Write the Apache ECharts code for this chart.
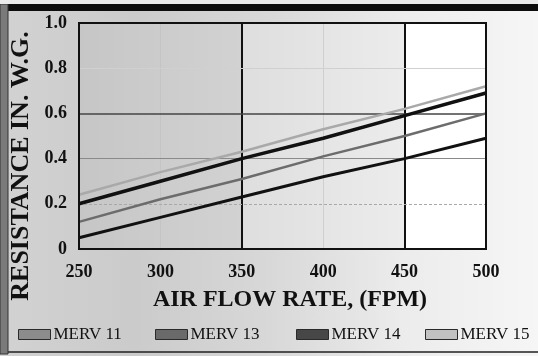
<!DOCTYPE html>
<html>
<head>
<meta charset="utf-8">
<script src="https://cdn.jsdelivr.net/npm/echarts@6/dist/echarts.min.js"></script>
<style>
  html, body { margin: 0; padding: 0; background: #fff; }
  #chart { width: 538px; height: 356px; }
</style>
</head>
<body>
<div id="chart"></div>
<script>
// Filter resistance vs. face velocity
const airFlow = [250, 300, 350, 400, 450, 500];
const merv11 = [0.05, 0.14, 0.23, 0.32, 0.40, 0.49];
const merv13 = [0.12, 0.22, 0.31, 0.41, 0.50, 0.60];
const merv14 = [0.20, 0.30, 0.40, 0.49, 0.59, 0.69];
const merv15 = [0.24, 0.34, 0.43, 0.53, 0.62, 0.72];
const seriesNames = ['MERV 11', 'MERV 13', 'MERV 14', 'MERV 15'];
const xTicks = [250, 300, 350, 400, 450, 500];
const yTicks = [0, 0.2, 0.4, 0.6, 0.8, 1.0];

const SERIF = '"Liberation Serif", "DejaVu Serif", serif';

const lineColors = ['#111111', '#6c6c6c', '#111111', '#a9a9a9'];
const lineWidths = [3, 2.5, 3.5, 2.5];
const swatchColors = ['#8c8c8c', '#6a6a6a', '#474747', '#c2c2c2'];
const legendLeft = [18, 155, 296, 425];

const chart = echarts.init(document.getElementById('chart'), null, { renderer: 'canvas' });

const allValues = [merv11, merv13, merv14, merv15];

const series = allValues.map((vals, i) => ({
  name: seriesNames[i],
  type: 'line',
  data: airFlow.map((x, j) => [x, vals[j]]),
  symbol: 'none',
  z: 5,
  lineStyle: { color: lineColors[i], width: lineWidths[i] },
  itemStyle: { color: lineColors[i] }
}));

// shaded bands and reference lines inside the plot
series.push({
  type: 'line',
  data: [],
  silent: true,
  z: 1,
  markArea: {
    silent: true,
    data: [
      [{ xAxis: 250, itemStyle: { color: {
          type: 'linear', x: 0, y: 0, x2: 1, y2: 0,
          colorStops: [{ offset: 0, color: '#c6c6c6' }, { offset: 1, color: '#d2d2d2' }]
        } } }, { xAxis: 350 }],
      [{ xAxis: 350, itemStyle: { color: {
          type: 'linear', x: 0, y: 0, x2: 1, y2: 0,
          colorStops: [{ offset: 0, color: '#dedede' }, { offset: 1, color: '#ececec' }]
        } } }, { xAxis: 450 }],
      [{ xAxis: 450, itemStyle: { color: '#ffffff' } }, { xAxis: 500 }]
    ]
  },
  markLine: {
    silent: true,
    symbol: 'none',
    label: { show: false },
    data: [
      { xAxis: xTicks[1], lineStyle: { color: '#c4c4c4', width: 1, type: 'solid' } },
      { xAxis: xTicks[3], lineStyle: { color: '#cfcfcf', width: 1, type: 'solid' } },
      { xAxis: xTicks[2], lineStyle: { color: '#111', width: 2, type: 'solid' } },
      { xAxis: xTicks[4], lineStyle: { color: '#111', width: 2, type: 'solid' } },
      { yAxis: yTicks[1], lineStyle: { color: '#a8a8a8', width: 1, type: [3, 2] } },
      { yAxis: yTicks[2], lineStyle: { color: '#8a8a8a', width: 1.2, type: 'solid' } },
      { yAxis: yTicks[3], lineStyle: { color: '#444', width: 1.5, type: 'solid' } },
      { yAxis: yTicks[4], lineStyle: { color: '#d0d0d0', width: 1, type: 'solid' } }
    ]
  }
});

const legends = seriesNames.map((name, i) => ({
  left: legendLeft[i],
  top: 326,
  icon: 'rect',
  itemWidth: 32,
  itemHeight: 10,
  itemGap: 0,
  padding: 0,
  selectedMode: false,
  textStyle: { fontFamily: SERIF, fontSize: 17, color: '#111', padding: [1, 0, 0, -2] },
  data: [{
    name: name,
    itemStyle: { color: swatchColors[i], borderColor: '#2a2a2a', borderWidth: 1 }
  }]
}));

const option = {
  animation: false,
  backgroundColor: {
    type: 'linear', x: 0, y: 0, x2: 1, y2: 0,
    colorStops: [
      { offset: 0, color: '#d2d2d2' },
      { offset: 0.25, color: '#cbcbcb' },
      { offset: 0.5, color: '#d8d8d8' },
      { offset: 0.75, color: '#ececec' },
      { offset: 1, color: '#f6f6f6' }
    ]
  },
  graphic: [
    // outer frame
    { type: 'rect', shape: { x: 3, y: 8, width: 540, height: 344 }, style: { fill: 'none', stroke: '#222', lineWidth: 1.5 }, z: 10 },
    { type: 'rect', shape: { x: 3, y: 4, width: 540, height: 7 }, style: { fill: '#0d0d0d' }, z: 10 },
    { type: 'rect', shape: { x: 0, y: 4, width: 8, height: 350 }, style: { fill: '#7a7a7a', stroke: '#333', lineWidth: 1 }, z: 10 },
    { type: 'rect', shape: { x: 0, y: 0, width: 538, height: 4 }, style: { fill: '#eaeaea' }, z: 10 },
    // axis titles
    {
      type: 'text', x: 21, y: 166, rotation: Math.PI / 2, z: 10,
      style: {
        text: 'RESISTANCE IN. W.G.', fontFamily: SERIF, fontWeight: 'bold', fontSize: 26,
        fill: '#111', align: 'center', verticalAlign: 'middle'
      }
    },
    {
      type: 'text', x: 290, y: 300, z: 10,
      style: {
        text: 'AIR FLOW RATE, (FPM)', fontFamily: SERIF, fontWeight: 'bold', fontSize: 24,
        fill: '#111', align: 'center', verticalAlign: 'middle'
      }
    }
  ],
  legend: legends,
  grid: {
    left: 79, right: 52, top: 23, bottom: 107,
    show: true, borderColor: '#111', borderWidth: 2, backgroundColor: 'transparent', z: 6
  },
  xAxis: {
    type: 'value', min: 250, max: 500, interval: 50,
    axisLine: { show: false },
    axisTick: { show: false },
    splitLine: { show: false },
    axisLabel: { fontFamily: SERIF, fontWeight: 'bold', fontSize: 18, color: '#111', margin: 14 }
  },
  yAxis: {
    type: 'value', min: 0, max: 1.0, interval: 0.2,
    axisLine: { show: false },
    axisTick: { show: false },
    splitLine: { show: false },
    axisLabel: {
      fontFamily: SERIF, fontWeight: 'bold', fontSize: 18, color: '#111', margin: 12,
      formatter: v => (v === 0 ? '0' : v.toFixed(1))
    }
  },
  series: series
};

chart.setOption(option);
</script>
</body>
</html>
